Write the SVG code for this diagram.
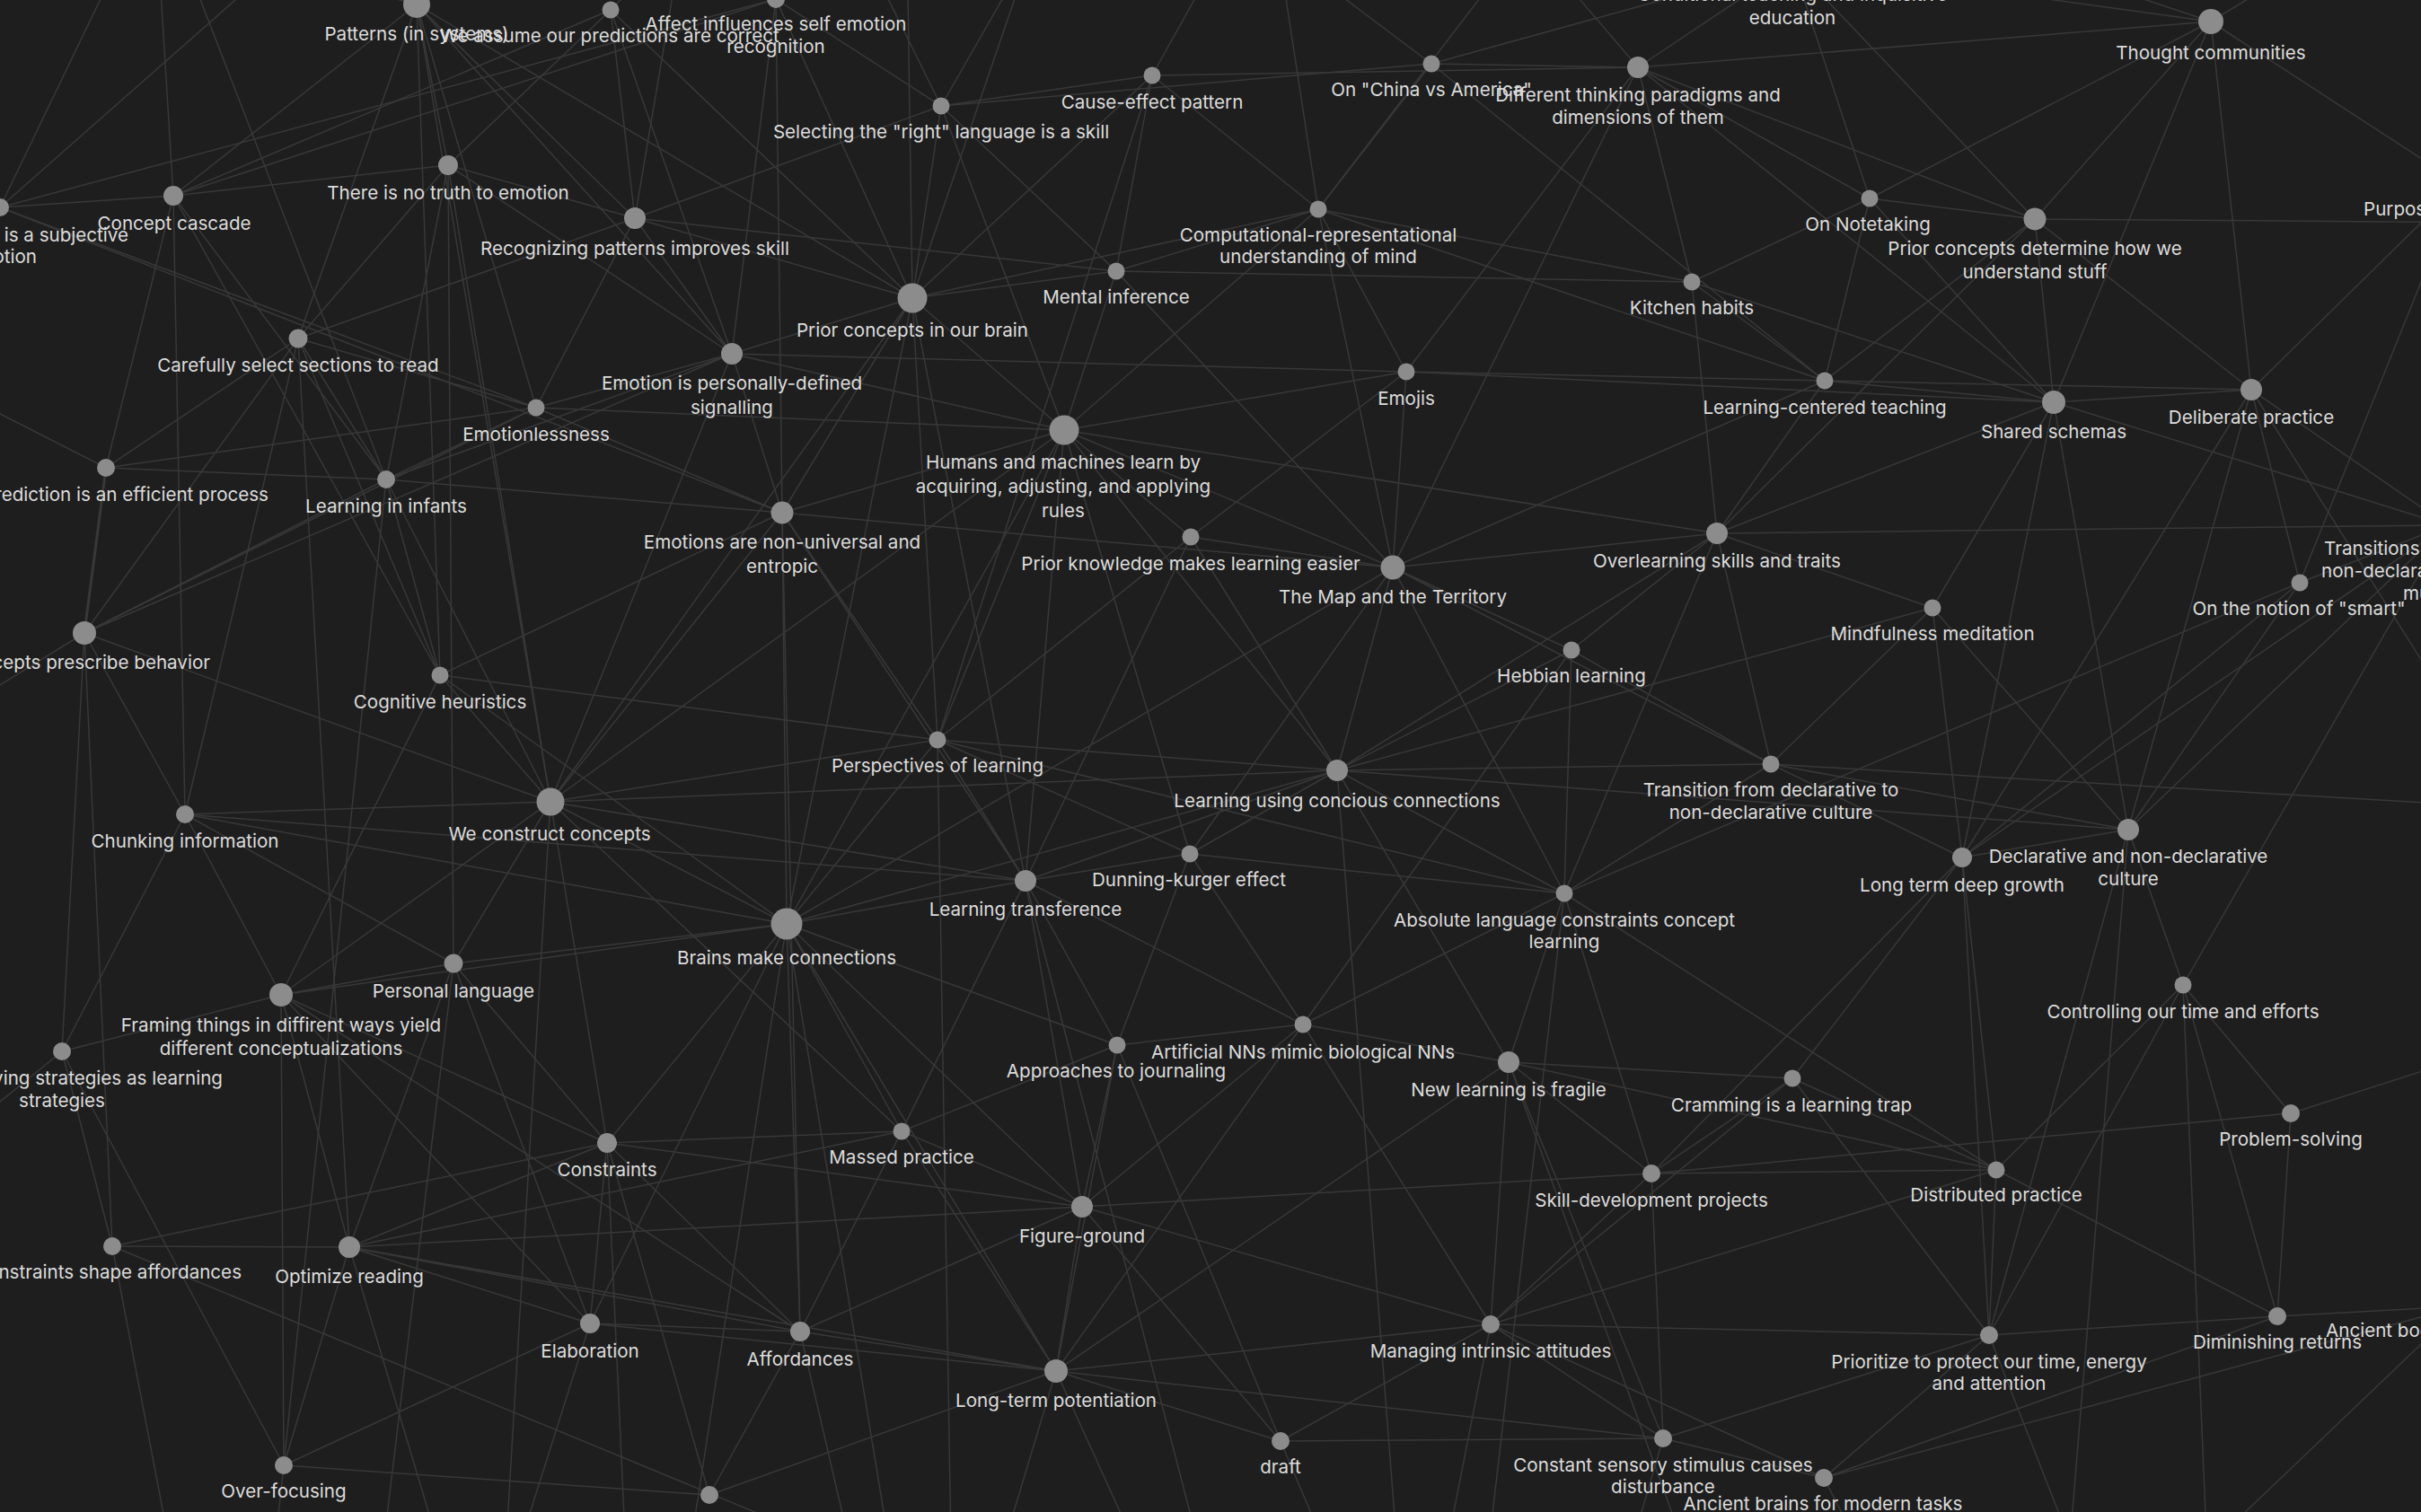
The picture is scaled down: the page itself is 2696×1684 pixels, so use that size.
<svg xmlns="http://www.w3.org/2000/svg" width="2696" height="1684" viewBox="0 0 2696 1684">
<style>
.bg{fill:#1e1e1e}
#edges line{stroke:#383838;stroke-width:1.5}
.n circle{fill:#8c8c8c}
.n text{font-family:Inter,"Noto Sans","Liberation Sans",sans-serif;font-size:20.6px;fill:#dcdcdc;text-anchor:middle}
.n text.e{text-anchor:end}
.n text.s{text-anchor:start}
</style>
<rect class="bg" x="0" y="0" width="2696" height="1684"/>
<g id="edges">
<line x1="0" y1="231" x2="193" y2="218"/><line x1="0" y1="231" x2="864" y2="-1"/><line x1="0" y1="231" x2="597" y2="454"/><line x1="0" y1="231" x2="871" y2="571"/><line x1="0" y1="231" x2="150" y2="-80"/><line x1="0" y1="231" x2="330" y2="-60"/><line x1="0" y1="231" x2="-80" y2="420"/>
<line x1="193" y1="218" x2="499" y2="184"/><line x1="193" y1="218" x2="864" y2="-1"/><line x1="193" y1="218" x2="118" y2="521"/><line x1="193" y1="218" x2="206" y2="907"/><line x1="193" y1="218" x2="430" y2="534"/><line x1="193" y1="218" x2="490" y2="752"/><line x1="193" y1="218" x2="464" y2="5"/><line x1="193" y1="218" x2="176" y2="-60"/>
<line x1="464" y1="5" x2="499" y2="184"/><line x1="464" y1="5" x2="332" y2="377"/><line x1="464" y1="5" x2="613" y2="893"/><line x1="464" y1="5" x2="597" y2="454"/><line x1="464" y1="5" x2="707" y2="243"/><line x1="464" y1="5" x2="815" y2="394"/><line x1="464" y1="5" x2="1016" y2="332"/><line x1="464" y1="5" x2="560" y2="-90"/><line x1="464" y1="5" x2="490" y2="752"/><line x1="464" y1="5" x2="150" y2="-80"/>
<line x1="680" y1="11" x2="707" y2="243"/><line x1="680" y1="11" x2="1016" y2="332"/><line x1="680" y1="11" x2="815" y2="394"/><line x1="680" y1="11" x2="499" y2="184"/><line x1="680" y1="11" x2="760" y2="-70"/><line x1="680" y1="11" x2="193" y2="218"/>
<line x1="864" y1="-1" x2="871" y2="571"/><line x1="864" y1="-1" x2="1048" y2="118"/><line x1="864" y1="-1" x2="1016" y2="332"/><line x1="864" y1="-1" x2="950" y2="-80"/><line x1="864" y1="-1" x2="815" y2="394"/>
<line x1="499" y1="184" x2="707" y2="243"/><line x1="499" y1="184" x2="332" y2="377"/><line x1="499" y1="184" x2="815" y2="394"/><line x1="499" y1="184" x2="430" y2="534"/><line x1="499" y1="184" x2="505" y2="1073"/><line x1="499" y1="184" x2="613" y2="893"/>
<line x1="707" y1="243" x2="332" y2="377"/><line x1="707" y1="243" x2="815" y2="394"/><line x1="707" y1="243" x2="1016" y2="332"/><line x1="707" y1="243" x2="1048" y2="118"/><line x1="707" y1="243" x2="1243" y2="302"/><line x1="707" y1="243" x2="597" y2="454"/><line x1="707" y1="243" x2="760" y2="-70"/>
<line x1="332" y1="377" x2="430" y2="534"/><line x1="332" y1="377" x2="490" y2="752"/><line x1="332" y1="377" x2="94" y2="705"/><line x1="332" y1="377" x2="206" y2="907"/><line x1="332" y1="377" x2="118" y2="521"/><line x1="332" y1="377" x2="597" y2="454"/><line x1="332" y1="377" x2="389" y2="1389"/>
<line x1="118" y1="521" x2="94" y2="705" style="stroke-width:3"/><line x1="118" y1="521" x2="597" y2="454"/><line x1="118" y1="521" x2="-80" y2="420"/><line x1="118" y1="521" x2="430" y2="534"/>
<line x1="597" y1="454" x2="430" y2="534"/><line x1="597" y1="454" x2="815" y2="394"/><line x1="597" y1="454" x2="871" y2="571"/><line x1="597" y1="454" x2="94" y2="705"/><line x1="597" y1="454" x2="1185" y2="479"/>
<line x1="430" y1="534" x2="94" y2="705"/><line x1="430" y1="534" x2="613" y2="893"/><line x1="430" y1="534" x2="490" y2="752"/><line x1="430" y1="534" x2="871" y2="571"/><line x1="430" y1="534" x2="200" y2="-60"/><line x1="430" y1="534" x2="815" y2="394"/>
<line x1="815" y1="394" x2="1016" y2="332"/><line x1="815" y1="394" x2="1566" y2="414"/><line x1="815" y1="394" x2="871" y2="571"/><line x1="815" y1="394" x2="1185" y2="479"/><line x1="815" y1="394" x2="94" y2="705"/><line x1="815" y1="394" x2="613" y2="893"/>
<line x1="94" y1="705" x2="206" y2="907"/><line x1="94" y1="705" x2="613" y2="893"/><line x1="94" y1="705" x2="125" y2="1388"/><line x1="94" y1="705" x2="-60" y2="800"/><line x1="94" y1="705" x2="69" y2="1171"/>
<line x1="490" y1="752" x2="613" y2="893"/><line x1="490" y1="752" x2="871" y2="571"/><line x1="490" y1="752" x2="313" y2="1108"/><line x1="490" y1="752" x2="1044" y2="824"/><line x1="490" y1="752" x2="876" y2="1029"/>
<line x1="206" y1="907" x2="613" y2="893"/><line x1="206" y1="907" x2="876" y2="1029"/><line x1="206" y1="907" x2="1142" y2="981"/><line x1="206" y1="907" x2="313" y2="1108"/><line x1="206" y1="907" x2="505" y2="1073"/><line x1="206" y1="907" x2="69" y2="1171"/>
<line x1="613" y1="893" x2="876" y2="1029"/><line x1="613" y1="893" x2="1142" y2="981"/><line x1="613" y1="893" x2="1044" y2="824"/><line x1="613" y1="893" x2="505" y2="1073"/><line x1="613" y1="893" x2="313" y2="1108"/><line x1="613" y1="893" x2="676" y2="1273"/><line x1="613" y1="893" x2="1489" y2="858"/><line x1="613" y1="893" x2="871" y2="571"/><line x1="613" y1="893" x2="1185" y2="479"/><line x1="613" y1="893" x2="1004" y2="1260"/>
<line x1="871" y1="571" x2="1016" y2="332"/><line x1="871" y1="571" x2="876" y2="1029"/><line x1="871" y1="571" x2="1185" y2="479"/><line x1="871" y1="571" x2="1044" y2="824"/><line x1="871" y1="571" x2="1551" y2="632"/><line x1="871" y1="571" x2="1142" y2="981"/><line x1="871" y1="571" x2="891" y2="1483"/>
<line x1="1016" y1="332" x2="1048" y2="118"/><line x1="1016" y1="332" x2="1243" y2="302"/><line x1="1016" y1="332" x2="1185" y2="479"/><line x1="1016" y1="332" x2="1044" y2="824"/><line x1="1016" y1="332" x2="876" y2="1029"/><line x1="1016" y1="332" x2="1010" y2="-80"/><line x1="1016" y1="332" x2="1150" y2="-60"/><line x1="1016" y1="332" x2="1283" y2="84"/><line x1="1016" y1="332" x2="1468" y2="233"/><line x1="1016" y1="332" x2="1142" y2="981"/><line x1="1016" y1="332" x2="613" y2="893"/>
<line x1="1048" y1="118" x2="1283" y2="84"/><line x1="1048" y1="118" x2="950" y2="-80"/><line x1="1048" y1="118" x2="1150" y2="-60"/><line x1="1048" y1="118" x2="1243" y2="302"/><line x1="1048" y1="118" x2="1185" y2="479"/><line x1="1048" y1="118" x2="1594" y2="71"/>
<line x1="1283" y1="84" x2="1044" y2="824"/><line x1="1283" y1="84" x2="1380" y2="-90"/><line x1="1283" y1="84" x2="1243" y2="302"/><line x1="1283" y1="84" x2="1468" y2="233"/><line x1="1283" y1="84" x2="1824" y2="75"/>
<line x1="1243" y1="302" x2="1185" y2="479"/><line x1="1243" y1="302" x2="1468" y2="233"/><line x1="1243" y1="302" x2="1551" y2="632"/><line x1="1243" y1="302" x2="1884" y2="314"/>
<line x1="1185" y1="479" x2="1326" y2="598"/><line x1="1185" y1="479" x2="1551" y2="632"/><line x1="1185" y1="479" x2="1044" y2="824"/><line x1="1185" y1="479" x2="1142" y2="981"/><line x1="1185" y1="479" x2="1489" y2="858"/><line x1="1185" y1="479" x2="876" y2="1029"/><line x1="1185" y1="479" x2="1566" y2="414"/><line x1="1185" y1="479" x2="1468" y2="233"/><line x1="1185" y1="479" x2="1912" y2="594"/><line x1="1185" y1="479" x2="1325" y2="951"/>
<line x1="1594" y1="71" x2="1824" y2="75"/><line x1="1594" y1="71" x2="1468" y2="233"/><line x1="1594" y1="71" x2="1380" y2="-90"/><line x1="1594" y1="71" x2="2032" y2="424"/><line x1="1594" y1="71" x2="1996" y2="-40"/>
<line x1="1824" y1="75" x2="1996" y2="-40"/><line x1="1824" y1="75" x2="2462" y2="24"/><line x1="1824" y1="75" x2="1884" y2="314"/><line x1="1824" y1="75" x2="2082" y2="221"/><line x1="1824" y1="75" x2="1700" y2="-70"/><line x1="1824" y1="75" x2="1566" y2="414"/><line x1="1824" y1="75" x2="1551" y2="632"/><line x1="1824" y1="75" x2="2266" y2="244"/><line x1="1824" y1="75" x2="2287" y2="448"/>
<line x1="1468" y1="233" x2="1566" y2="414"/><line x1="1468" y1="233" x2="1551" y2="632"/><line x1="1468" y1="233" x2="1420" y2="-80"/><line x1="1468" y1="233" x2="1700" y2="-70"/><line x1="1468" y1="233" x2="2032" y2="424"/><line x1="1468" y1="233" x2="1884" y2="314"/>
<line x1="1884" y1="314" x2="2032" y2="424"/><line x1="1884" y1="314" x2="2082" y2="221"/><line x1="1884" y1="314" x2="2287" y2="448"/><line x1="1884" y1="314" x2="1912" y2="594"/>
<line x1="2082" y1="221" x2="2266" y2="244"/><line x1="2082" y1="221" x2="1996" y2="-40"/><line x1="2082" y1="221" x2="2462" y2="24"/><line x1="2082" y1="221" x2="2287" y2="448"/><line x1="2082" y1="221" x2="2032" y2="424"/>
<line x1="2266" y1="244" x2="2462" y2="24"/><line x1="2266" y1="244" x2="2287" y2="448"/><line x1="2266" y1="244" x2="2032" y2="424"/><line x1="2266" y1="244" x2="2800" y2="248"/><line x1="2266" y1="244" x2="2507" y2="434"/><line x1="2266" y1="244" x2="1912" y2="594"/><line x1="2266" y1="244" x2="1996" y2="-40"/>
<line x1="2462" y1="24" x2="2287" y2="448"/><line x1="2462" y1="24" x2="2507" y2="434"/><line x1="2462" y1="24" x2="1996" y2="-40"/><line x1="2462" y1="24" x2="2150" y2="-80"/><line x1="2462" y1="24" x2="2600" y2="-60"/><line x1="2462" y1="24" x2="2740" y2="205"/>
<line x1="2287" y1="448" x2="2032" y2="424"/><line x1="2287" y1="448" x2="2507" y2="434"/><line x1="2287" y1="448" x2="1566" y2="414"/><line x1="2287" y1="448" x2="1912" y2="594"/><line x1="2287" y1="448" x2="2152" y2="677"/><line x1="2287" y1="448" x2="2370" y2="924"/><line x1="2287" y1="448" x2="2185" y2="955"/><line x1="2287" y1="448" x2="2725" y2="585"/>
<line x1="2032" y1="424" x2="1566" y2="414"/><line x1="2032" y1="424" x2="1912" y2="594"/><line x1="2032" y1="424" x2="2507" y2="434"/><line x1="2032" y1="424" x2="1551" y2="632"/>
<line x1="2507" y1="434" x2="2740" y2="205"/><line x1="2507" y1="434" x2="2561" y2="649"/><line x1="2507" y1="434" x2="2370" y2="924"/><line x1="2507" y1="434" x2="2800" y2="900"/><line x1="2507" y1="434" x2="2725" y2="585"/><line x1="2507" y1="434" x2="2185" y2="955"/>
<line x1="1566" y1="414" x2="1551" y2="632"/><line x1="1566" y1="414" x2="1326" y2="598"/>
<line x1="1326" y1="598" x2="1551" y2="632"/><line x1="1326" y1="598" x2="1489" y2="858"/><line x1="1326" y1="598" x2="1044" y2="824"/><line x1="1326" y1="598" x2="1142" y2="981"/>
<line x1="1551" y1="632" x2="1750" y2="724"/><line x1="1551" y1="632" x2="1489" y2="858"/><line x1="1551" y1="632" x2="1972" y2="851"/><line x1="1551" y1="632" x2="876" y2="1029"/><line x1="1551" y1="632" x2="1912" y2="594"/><line x1="1551" y1="632" x2="1325" y2="951"/><line x1="1551" y1="632" x2="1742" y2="995"/>
<line x1="1912" y1="594" x2="1750" y2="724"/><line x1="1912" y1="594" x2="1972" y2="851"/><line x1="1912" y1="594" x2="1489" y2="858"/><line x1="1912" y1="594" x2="2152" y2="677"/><line x1="1912" y1="594" x2="2725" y2="585"/><line x1="1912" y1="594" x2="1742" y2="995"/>
<line x1="2152" y1="677" x2="2185" y2="955"/><line x1="2152" y1="677" x2="2370" y2="924"/><line x1="2152" y1="677" x2="1972" y2="851"/><line x1="2152" y1="677" x2="1489" y2="858"/>
<line x1="2561" y1="649" x2="2370" y2="924"/><line x1="2561" y1="649" x2="2725" y2="585"/><line x1="2561" y1="649" x2="2185" y2="955"/><line x1="2561" y1="649" x2="2740" y2="205"/><line x1="2561" y1="649" x2="1742" y2="995"/>
<line x1="1750" y1="724" x2="1489" y2="858"/><line x1="1750" y1="724" x2="1742" y2="995"/><line x1="1750" y1="724" x2="1972" y2="851"/><line x1="1750" y1="724" x2="1451" y2="1141"/>
<line x1="1044" y1="824" x2="1489" y2="858"/><line x1="1044" y1="824" x2="1142" y2="981"/><line x1="1044" y1="824" x2="876" y2="1029"/><line x1="1044" y1="824" x2="1325" y2="951"/><line x1="1044" y1="824" x2="1742" y2="995"/>
<line x1="1489" y1="858" x2="1142" y2="981"/><line x1="1489" y1="858" x2="1325" y2="951"/><line x1="1489" y1="858" x2="876" y2="1029"/><line x1="1489" y1="858" x2="1742" y2="995"/><line x1="1489" y1="858" x2="1972" y2="851"/><line x1="1489" y1="858" x2="1680" y2="1183"/><line x1="1489" y1="858" x2="2370" y2="924"/>
<line x1="1972" y1="851" x2="2370" y2="924"/><line x1="1972" y1="851" x2="2185" y2="955"/><line x1="1972" y1="851" x2="1742" y2="995"/><line x1="1972" y1="851" x2="2800" y2="900"/>
<line x1="2370" y1="924" x2="2185" y2="955"/><line x1="2370" y1="924" x2="2725" y2="585"/><line x1="2370" y1="924" x2="2431" y2="1097"/><line x1="2370" y1="924" x2="2215" y2="1487"/><line x1="2370" y1="924" x2="2300" y2="1780"/>
<line x1="2185" y1="955" x2="2725" y2="585"/><line x1="2185" y1="955" x2="2223" y2="1303"/><line x1="2185" y1="955" x2="1996" y2="1201"/><line x1="2185" y1="955" x2="1839" y2="1307"/><line x1="2185" y1="955" x2="2215" y2="1487"/>
<line x1="1142" y1="981" x2="1325" y2="951"/><line x1="1142" y1="981" x2="876" y2="1029"/><line x1="1142" y1="981" x2="1244" y2="1164"/><line x1="1142" y1="981" x2="1451" y2="1141"/><line x1="1142" y1="981" x2="1205" y2="1344"/><line x1="1142" y1="981" x2="1004" y2="1260"/>
<line x1="1325" y1="951" x2="1742" y2="995"/><line x1="1325" y1="951" x2="1451" y2="1141"/><line x1="1325" y1="951" x2="1244" y2="1164"/>
<line x1="1742" y1="995" x2="1680" y2="1183"/><line x1="1742" y1="995" x2="1839" y2="1307"/><line x1="1742" y1="995" x2="1451" y2="1141"/><line x1="1742" y1="995" x2="2223" y2="1303"/>
<line x1="2431" y1="1097" x2="2223" y2="1303"/><line x1="2431" y1="1097" x2="2215" y2="1487"/><line x1="2431" y1="1097" x2="2536" y2="1466"/><line x1="2431" y1="1097" x2="2725" y2="585"/><line x1="2431" y1="1097" x2="2460" y2="1780"/>
<line x1="876" y1="1029" x2="676" y2="1273"/><line x1="876" y1="1029" x2="1004" y2="1260"/><line x1="876" y1="1029" x2="1205" y2="1344"/><line x1="876" y1="1029" x2="1176" y2="1527"/><line x1="876" y1="1029" x2="891" y2="1483"/><line x1="876" y1="1029" x2="657" y2="1474"/><line x1="876" y1="1029" x2="1244" y2="1164"/><line x1="876" y1="1029" x2="505" y2="1073"/><line x1="876" y1="1029" x2="313" y2="1108"/>
<line x1="313" y1="1108" x2="505" y2="1073"/><line x1="313" y1="1108" x2="389" y2="1389"/><line x1="313" y1="1108" x2="69" y2="1171"/><line x1="313" y1="1108" x2="676" y2="1273"/><line x1="313" y1="1108" x2="657" y2="1474"/><line x1="313" y1="1108" x2="891" y2="1483"/>
<line x1="505" y1="1073" x2="676" y2="1273"/><line x1="505" y1="1073" x2="389" y2="1389"/><line x1="505" y1="1073" x2="657" y2="1474"/>
<line x1="69" y1="1171" x2="125" y2="1388"/><line x1="69" y1="1171" x2="316" y2="1632"/><line x1="69" y1="1171" x2="-90" y2="1300"/>
<line x1="1451" y1="1141" x2="1244" y2="1164"/><line x1="1451" y1="1141" x2="1680" y2="1183"/><line x1="1451" y1="1141" x2="1205" y2="1344"/><line x1="1451" y1="1141" x2="1176" y2="1527"/><line x1="1451" y1="1141" x2="1660" y2="1475"/>
<line x1="1244" y1="1164" x2="1205" y2="1344"/><line x1="1244" y1="1164" x2="1004" y2="1260"/><line x1="1244" y1="1164" x2="1176" y2="1527"/><line x1="1244" y1="1164" x2="1426" y2="1605"/>
<line x1="1680" y1="1183" x2="1996" y2="1201"/><line x1="1680" y1="1183" x2="1839" y2="1307"/><line x1="1680" y1="1183" x2="1660" y2="1475"/><line x1="1680" y1="1183" x2="1176" y2="1527"/><line x1="1680" y1="1183" x2="1852" y2="1602"/><line x1="1680" y1="1183" x2="2223" y2="1303"/>
<line x1="1996" y1="1201" x2="2223" y2="1303"/><line x1="1996" y1="1201" x2="1839" y2="1307"/><line x1="1996" y1="1201" x2="2215" y2="1487"/><line x1="1996" y1="1201" x2="1660" y2="1475"/>
<line x1="2551" y1="1240" x2="2536" y2="1466"/><line x1="2551" y1="1240" x2="2800" y2="1160"/><line x1="2551" y1="1240" x2="2431" y2="1097"/><line x1="2551" y1="1240" x2="1839" y2="1307"/>
<line x1="1004" y1="1260" x2="1205" y2="1344"/><line x1="1004" y1="1260" x2="891" y2="1483"/><line x1="1004" y1="1260" x2="1176" y2="1527"/><line x1="1004" y1="1260" x2="676" y2="1273"/><line x1="1004" y1="1260" x2="389" y2="1389"/>
<line x1="676" y1="1273" x2="389" y2="1389"/><line x1="676" y1="1273" x2="657" y2="1474"/><line x1="676" y1="1273" x2="891" y2="1483"/><line x1="676" y1="1273" x2="125" y2="1388"/><line x1="676" y1="1273" x2="1205" y2="1344"/>
<line x1="1839" y1="1307" x2="2223" y2="1303"/><line x1="1839" y1="1307" x2="1660" y2="1475"/><line x1="1839" y1="1307" x2="1205" y2="1344"/><line x1="1839" y1="1307" x2="1852" y2="1602"/>
<line x1="2223" y1="1303" x2="2536" y2="1466"/><line x1="2223" y1="1303" x2="2215" y2="1487"/><line x1="2223" y1="1303" x2="1660" y2="1475"/>
<line x1="1205" y1="1344" x2="1176" y2="1527"/><line x1="1205" y1="1344" x2="891" y2="1483"/><line x1="1205" y1="1344" x2="1660" y2="1475"/><line x1="1205" y1="1344" x2="1426" y2="1605"/><line x1="1205" y1="1344" x2="389" y2="1389"/>
<line x1="125" y1="1388" x2="389" y2="1389"/><line x1="125" y1="1388" x2="200" y2="1780"/><line x1="125" y1="1388" x2="1000" y2="1750"/>
<line x1="389" y1="1389" x2="657" y2="1474"/><line x1="389" y1="1389" x2="316" y2="1632"/><line x1="389" y1="1389" x2="500" y2="1760"/><line x1="389" y1="1389" x2="891" y2="1483"/><line x1="389" y1="1389" x2="1176" y2="1527"/>
<line x1="657" y1="1474" x2="891" y2="1483"/><line x1="657" y1="1474" x2="1176" y2="1527"/><line x1="657" y1="1474" x2="560" y2="1780"/><line x1="657" y1="1474" x2="316" y2="1632"/>
<line x1="891" y1="1483" x2="1176" y2="1527"/><line x1="891" y1="1483" x2="790" y2="1665"/><line x1="891" y1="1483" x2="960" y2="1780"/>
<line x1="1176" y1="1527" x2="1426" y2="1605"/><line x1="1176" y1="1527" x2="1660" y2="1475"/><line x1="1176" y1="1527" x2="1852" y2="1602"/><line x1="1176" y1="1527" x2="1100" y2="1780"/><line x1="1176" y1="1527" x2="1300" y2="1800"/>
<line x1="1660" y1="1475" x2="1852" y2="1602"/><line x1="1660" y1="1475" x2="2215" y2="1487"/><line x1="1660" y1="1475" x2="1426" y2="1605"/><line x1="1660" y1="1475" x2="2031" y2="1646"/><line x1="1660" y1="1475" x2="1600" y2="1780"/>
<line x1="2215" y1="1487" x2="2536" y2="1466"/><line x1="2215" y1="1487" x2="2031" y2="1646"/><line x1="2215" y1="1487" x2="1852" y2="1602"/><line x1="2215" y1="1487" x2="2330" y2="1780"/>
<line x1="2536" y1="1466" x2="2740" y2="1455"/><line x1="2536" y1="1466" x2="2031" y2="1646"/><line x1="2740" y1="1455" x2="2400" y2="1780"/>
<line x1="316" y1="1632" x2="790" y2="1665"/><line x1="316" y1="1632" x2="300" y2="1780"/>
<line x1="1426" y1="1605" x2="1852" y2="1602"/><line x1="1426" y1="1605" x2="1500" y2="1780"/>
<line x1="1852" y1="1602" x2="2031" y2="1646"/><line x1="1852" y1="1602" x2="1800" y2="1780"/>
<line x1="2031" y1="1646" x2="2740" y2="1455"/><line x1="2031" y1="1646" x2="2100" y2="1780"/>
<line x1="790" y1="1665" x2="1176" y2="1527"/><line x1="790" y1="1665" x2="676" y2="1273"/>
<line x1="313" y1="1108" x2="316" y2="1632"/><line x1="430" y1="534" x2="316" y2="1632"/><line x1="613" y1="893" x2="560" y2="1780"/><line x1="876" y1="1029" x2="760" y2="1780"/><line x1="876" y1="1029" x2="1000" y2="1780"/><line x1="1142" y1="981" x2="1350" y2="1780"/><line x1="676" y1="1273" x2="700" y2="1800"/><line x1="1742" y1="995" x2="1650" y2="1790"/><line x1="1680" y1="1183" x2="1900" y2="1790"/><line x1="1044" y1="824" x2="1060" y2="1780"/><line x1="505" y1="1073" x2="420" y2="1780"/><line x1="1489" y1="858" x2="1560" y2="1780"/>
</g>
<g id="nodes">
<g class="n" id="n-patterns"><circle cx="464" cy="5" r="15"/><text x="464" y="45">Patterns (in systems)</text></g>
<g class="n" id="n-we-assume"><circle cx="680" cy="11" r="9.5"/><text x="679" y="47">We assume our predictions are correct</text></g>
<g class="n" id="n-affect"><circle cx="864" cy="-1" r="10"/><text x="864" y="34">Affect influences self emotion<tspan x="864" dy="25">recognition</tspan></text></g>
<g class="n" id="n-conditional"><circle cx="1996" cy="-40" r="10"/><text x="1996" y="1">Conditional teaching and inquisitive<tspan x="1996" dy="26">education</tspan></text></g>
<g class="n" id="n-thought"><circle cx="2462" cy="24" r="14"/><text x="2462" y="66">Thought communities</text></g>
<g class="n" id="n-cause"><circle cx="1283" cy="84" r="9.5"/><text x="1283" y="121">Cause-effect pattern</text></g>
<g class="n" id="n-selecting"><circle cx="1048" cy="118" r="9.5"/><text x="1048" y="154">Selecting the "right" language is a skill</text></g>
<g class="n" id="n-china"><circle cx="1594" cy="71" r="9.5"/><text x="1594" y="107">On "China vs America"</text></g>
<g class="n" id="n-different"><circle cx="1824" cy="75" r="12"/><text x="1824" y="113">Different thinking paradigms and<tspan x="1824" dy="25">dimensions of them</tspan></text></g>
<g class="n" id="n-cascade"><circle cx="193" cy="218" r="11"/><text x="194" y="256">Concept cascade</text></g>
<g class="n" id="n-subjective"><circle cx="0" cy="231" r="10"/><text class="e" x="143" y="269">s is a subjective</text><text class="e" x="41" y="293">otion</text></g>
<g class="n" id="n-truth"><circle cx="499" cy="184" r="11"/><text x="499" y="222">There is no truth to emotion</text></g>
<g class="n" id="n-recognizing"><circle cx="707" cy="243" r="12"/><text x="707" y="284">Recognizing patterns improves skill</text></g>
<g class="n" id="n-prior-brain"><circle cx="1016" cy="332" r="16.5"/><text x="1016" y="375">Prior concepts in our brain</text></g>
<g class="n" id="n-mental"><circle cx="1243" cy="302" r="9.5"/><text x="1243" y="338">Mental inference</text></g>
<g class="n" id="n-computational"><circle cx="1468" cy="233" r="9.5"/><text x="1468" y="269">Computational-representational<tspan x="1468" dy="24">understanding of mind</tspan></text></g>
<g class="n" id="n-kitchen"><circle cx="1884" cy="314" r="9.5"/><text x="1884" y="350">Kitchen habits</text></g>
<g class="n" id="n-notetaking"><circle cx="2082" cy="221" r="9.5"/><text x="2080" y="257">On Notetaking</text></g>
<g class="n" id="n-prior-determine"><circle cx="2266" cy="244" r="12.5"/><text x="2266" y="284">Prior concepts determine how we<tspan x="2266" dy="26">understand stuff</tspan></text></g>
<g class="n" id="n-purpos"><circle cx="2740" cy="205" r="10"/><text class="s" x="2632" y="240">Purpos</text></g>
<g class="n" id="n-emojis"><circle cx="1566" cy="414" r="9.5"/><text x="1566" y="451">Emojis</text></g>
<g class="n" id="n-learning-centered"><circle cx="2032" cy="424" r="9.5"/><text x="2032" y="461">Learning-centered teaching</text></g>
<g class="n" id="n-shared"><circle cx="2287" cy="448" r="13"/><text x="2287" y="488">Shared schemas</text></g>
<g class="n" id="n-deliberate"><circle cx="2507" cy="434" r="12"/><text x="2507" y="472">Deliberate practice</text></g>
<g class="n" id="n-carefully"><circle cx="332" cy="377" r="10.5"/><text x="332" y="414">Carefully select sections to read</text></g>
<g class="n" id="n-emotion-personal"><circle cx="815" cy="394" r="12"/><text x="815" y="434">Emotion is personally-defined<tspan x="815" dy="27">signalling</tspan></text></g>
<g class="n" id="n-emotionlessness"><circle cx="597" cy="454" r="9.5"/><text x="597" y="491">Emotionlessness</text></g>
<g class="n" id="n-humans"><circle cx="1185" cy="479" r="16.5"/><text x="1184" y="522">Humans and machines learn by<tspan x="1184" dy="27">acquiring, adjusting, and applying</tspan><tspan x="1184" dy="27">rules</tspan></text></g>
<g class="n" id="n-prediction"><circle cx="118" cy="521" r="10"/><text class="e" x="299" y="558">prediction is an efficient process</text></g>
<g class="n" id="n-infants"><circle cx="430" cy="534" r="10"/><text x="430" y="571">Learning in infants</text></g>
<g class="n" id="n-emotions-nonuniversal"><circle cx="871" cy="571" r="12.5"/><text x="871" y="611">Emotions are non-universal and<tspan x="871" dy="27">entropic</tspan></text></g>
<g class="n" id="n-prior-knowledge"><circle cx="1326" cy="598" r="9.5"/><text x="1326" y="635">Prior knowledge makes learning easier</text></g>
<g class="n" id="n-map"><circle cx="1551" cy="632" r="13.5"/><text x="1551" y="672">The Map and the Territory</text></g>
<g class="n" id="n-overlearning"><circle cx="1912" cy="594" r="12"/><text x="1912" y="632">Overlearning skills and traits</text></g>
<g class="n" id="n-mindfulness"><circle cx="2152" cy="677" r="9.5"/><text x="2152" y="713">Mindfulness meditation</text></g>
<g class="n" id="n-smart"><circle cx="2561" cy="649" r="9.5"/><text x="2560" y="685">On the notion of "smart"</text></g>
<g class="n" id="n-transitions"><circle cx="2725" cy="585" r="10"/><text class="s" x="2588" y="618">Transitions</text><text class="s" x="2585" y="643">non-declara</text><text class="s" x="2676" y="668">mu</text></g>
<g class="n" id="n-hebbian"><circle cx="1750" cy="724" r="9.5"/><text x="1750" y="760">Hebbian learning</text></g>
<g class="n" id="n-cognitive"><circle cx="490" cy="752" r="9.5"/><text x="490" y="789">Cognitive heuristics</text></g>
<g class="n" id="n-concepts-prescribe"><circle cx="94" cy="705" r="13"/><text class="e" x="234" y="745">cepts prescribe behavior</text></g>
<g class="n" id="n-perspectives"><circle cx="1044" cy="824" r="9.5"/><text x="1044" y="860">Perspectives of learning</text></g>
<g class="n" id="n-learning-conscious"><circle cx="1489" cy="858" r="12"/><text x="1489" y="899">Learning using concious connections</text></g>
<g class="n" id="n-transition"><circle cx="1972" cy="851" r="9.5"/><text x="1972" y="887">Transition from declarative to<tspan x="1972" dy="25">non-declarative culture</tspan></text></g>
<g class="n" id="n-declarative"><circle cx="2370" cy="924" r="12"/><text x="2370" y="961">Declarative and non-declarative<tspan x="2370" dy="25">culture</tspan></text></g>
<g class="n" id="n-long-term-growth"><circle cx="2185" cy="955" r="11"/><text x="2185" y="993">Long term deep growth</text></g>
<g class="n" id="n-chunking"><circle cx="206" cy="907" r="10"/><text x="206" y="944">Chunking information</text></g>
<g class="n" id="n-construct"><circle cx="613" cy="893" r="15.5"/><text x="612" y="936">We construct concepts</text></g>
<g class="n" id="n-brains"><circle cx="876" cy="1029" r="17.5"/><text x="876" y="1074">Brains make connections</text></g>
<g class="n" id="n-transference"><circle cx="1142" cy="981" r="12"/><text x="1142" y="1020">Learning transference</text></g>
<g class="n" id="n-dunning"><circle cx="1325" cy="951" r="9.5"/><text x="1324" y="987">Dunning-kurger effect</text></g>
<g class="n" id="n-absolute"><circle cx="1742" cy="995" r="9.5"/><text x="1742" y="1032">Absolute language constraints concept<tspan x="1742" dy="24">learning</tspan></text></g>
<g class="n" id="n-controlling"><circle cx="2431" cy="1097" r="9.5"/><text x="2431" y="1134">Controlling our time and efforts</text></g>
<g class="n" id="n-framing"><circle cx="313" cy="1108" r="13"/><text x="313" y="1149">Framing things in diffirent ways yield<tspan x="313" dy="26">different conceptualizations</tspan></text></g>
<g class="n" id="n-personal-language"><circle cx="505" cy="1073" r="10.5"/><text x="505" y="1111">Personal language</text></g>
<g class="n" id="n-problem-strategies"><circle cx="69" cy="1171" r="10"/><text class="e" x="248" y="1208">lving strategies as learning</text><text x="69" y="1233">strategies</text></g>
<g class="n" id="n-artificial"><circle cx="1451" cy="1141" r="9.5"/><text x="1451" y="1179">Artificial NNs mimic biological NNs</text></g>
<g class="n" id="n-journaling"><circle cx="1244" cy="1164" r="9.5"/><text x="1243" y="1200">Approaches to journaling</text></g>
<g class="n" id="n-fragile"><circle cx="1680" cy="1183" r="12"/><text x="1680" y="1221">New learning is fragile</text></g>
<g class="n" id="n-cramming"><circle cx="1996" cy="1201" r="9.5"/><text x="1995" y="1238">Cramming is a learning trap</text></g>
<g class="n" id="n-problem-solving"><circle cx="2551" cy="1240" r="10"/><text x="2551" y="1276">Problem-solving</text></g>
<g class="n" id="n-massed"><circle cx="1004" cy="1260" r="9.5"/><text x="1004" y="1296">Massed practice</text></g>
<g class="n" id="n-constraints"><circle cx="676" cy="1273" r="11"/><text x="676" y="1310">Constraints</text></g>
<g class="n" id="n-skill-dev"><circle cx="1839" cy="1307" r="10"/><text x="1839" y="1344">Skill-development projects</text></g>
<g class="n" id="n-distributed"><circle cx="2223" cy="1303" r="9.5"/><text x="2223" y="1338">Distributed practice</text></g>
<g class="n" id="n-figure-ground"><circle cx="1205" cy="1344" r="12"/><text x="1205" y="1384">Figure-ground</text></g>
<g class="n" id="n-constraints-shape"><circle cx="125" cy="1388" r="10"/><text class="e" x="269" y="1424">onstraints shape affordances</text></g>
<g class="n" id="n-optimize"><circle cx="389" cy="1389" r="12"/><text x="389" y="1429">Optimize reading</text></g>
<g class="n" id="n-elaboration"><circle cx="657" cy="1474" r="11"/><text x="657" y="1512">Elaboration</text></g>
<g class="n" id="n-affordances"><circle cx="891" cy="1483" r="11"/><text x="891" y="1521">Affordances</text></g>
<g class="n" id="n-ltp"><circle cx="1176" cy="1527" r="13"/><text x="1176" y="1567">Long-term potentiation</text></g>
<g class="n" id="n-managing"><circle cx="1660" cy="1475" r="10"/><text x="1660" y="1512">Managing intrinsic attitudes</text></g>
<g class="n" id="n-prioritize"><circle cx="2215" cy="1487" r="10"/><text x="2215" y="1524">Prioritize to protect our time, energy<tspan x="2215" dy="24">and attention</tspan></text></g>
<g class="n" id="n-diminishing"><circle cx="2536" cy="1466" r="10"/><text x="2536" y="1502">Diminishing returns</text></g>
<g class="n" id="n-ancient-boo"><circle cx="2740" cy="1455" r="10"/><text class="s" x="2590" y="1489">Ancient boo</text></g>
<g class="n" id="n-overfocusing"><circle cx="316" cy="1632" r="10"/><text x="316" y="1668">Over-focusing</text></g>
<g class="n" id="n-draft"><circle cx="1426" cy="1605" r="10"/><text x="1426" y="1641">draft</text></g>
<g class="n" id="n-constant"><circle cx="1852" cy="1602" r="10"/><text x="1852" y="1639">Constant sensory stimulus causes<tspan x="1852" dy="24">disturbance</tspan></text></g>
<g class="n" id="n-ancient-brains"><circle cx="2031" cy="1646" r="10"/><text x="2030" y="1682">Ancient brains for modern tasks</text></g>
<g class="n" id="n-bottom"><circle cx="790" cy="1665" r="10"/></g>
</g>
</svg>
